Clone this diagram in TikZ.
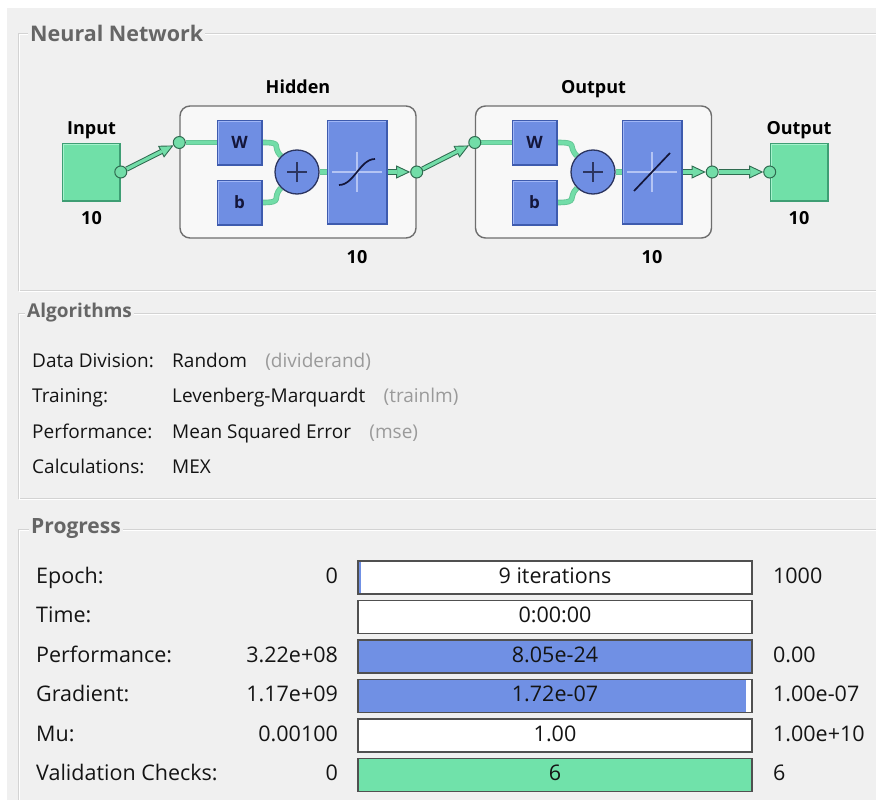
\documentclass[tikz,border=0pt]{standalone}
\usepackage{fontspec}
\setmainfont{Open Sans}
\usetikzlibrary{positioning,calc,arrows.meta}

\definecolor{panelbg}{HTML}{F0F0F0}
\definecolor{groupline}{HTML}{D3D3D3}
\definecolor{titlegray}{HTML}{666666}
\definecolor{textdark}{HTML}{141414}
\definecolor{notegray}{HTML}{9A9A9A}
\definecolor{iogreen}{HTML}{70E0A8}
\definecolor{iogreenlight}{HTML}{A6F2CC}
\definecolor{iogreendark}{HTML}{3E9E74}
\definecolor{nnblue}{HTML}{6F8EE3}
\definecolor{nnbluelight}{HTML}{A0B6F6}
\definecolor{nnbluedark}{HTML}{3E5BAE}
\definecolor{navy}{HTML}{14163A}
\definecolor{sumedge}{HTML}{2C3560}
\definecolor{wiredark}{HTML}{2F6B50}
\definecolor{wiregreen}{HTML}{72DDA8}
\definecolor{layeredge}{HTML}{6E6E6E}
\definecolor{layerfill}{HTML}{F8F8F8}
\definecolor{bardark}{HTML}{505050}
\definecolor{barblue}{HTML}{7090E4}
\definecolor{bargreen}{HTML}{70E2AA}
\definecolor{crossline}{HTML}{B4C4F4}

\pgfdeclarelayer{back}
\pgfdeclarelayer{wires}
\pgfsetlayers{back,wires,main}

\tikzset{
  grouptitle/.style={fill=panelbg, text=titlegray, inner sep=2pt, anchor=west},
  bevel/.style n args={3}{fill=#1, draw=#3, line width=0.6pt, path picture={
      \draw[#2, line width=3pt] (path picture bounding box.south west) |- (path picture bounding box.north east);
      \draw[#3, line width=3pt] (path picture bounding box.south west) -| (path picture bounding box.north east);}},
  iosquare/.style={bevel={iogreen}{iogreenlight}{iogreendark}, minimum width=58pt, minimum height=58pt, inner sep=0pt},
  weight/.style={bevel={nnblue}{nnbluelight}{nnbluedark}, minimum size=45pt, inner sep=0pt, text=navy, font=\bfseries\fontsize{17}{17}\selectfont},
  transfer/.style={bevel={nnblue}{nnbluelight}{nnbluedark}, minimum width=60pt, minimum height=104pt, inner sep=0pt},
  summer/.style={circle, fill=nnblue, draw=sumedge, line width=1.3pt, minimum size=44pt, inner sep=0pt, path picture={
      \draw[sumedge, line width=2.4pt] ([xshift=-10pt]path picture bounding box.center) -- ([xshift=10pt]path picture bounding box.center)
        ([yshift=-10pt]path picture bounding box.center) -- ([yshift=10pt]path picture bounding box.center);}},
  port/.style={circle, fill=wiregreen, draw=wiredark, line width=1pt, minimum size=12pt, inner sep=0pt},
  layerbox/.style={draw=layeredge, fill=layerfill, line width=1.4pt, rounded corners=10pt, minimum width=236pt, minimum height=132pt},
  nnlabel/.style={inner sep=0pt, text=black, text height=13pt, text depth=4pt, font=\bfseries\fontsize{18}{18}\selectfont},
  innerwire/.style={draw=wiregreen!80!wiredark, line width=5.6pt, postaction={draw=wiregreen, line width=3.8pt}},
  wirearrow/.style={draw=wiredark, line width=5.2pt, -{Triangle[length=14pt,width=13pt,line width=0.9pt,fill=wiregreen]},
      postaction={draw=wiregreen, line width=3.2pt, shorten >=13pt, -}},
  crosshair/.style={crossline, line width=1.2pt},
  tfcurve/.style={navy, line width=1.7pt},
  algtext/.style={inner sep=0pt, text=textdark, text height=14pt, text depth=4pt, font=\fontsize{19}{21}\selectfont},
  algnote/.style={algtext, text=notegray},
  progtext/.style={inner sep=0pt, text=textdark, text height=15pt, text depth=4pt, font=\fontsize{21.5}{23}\selectfont},
  bar/.style={progtext, draw=bardark, line width=1.8pt, fill=white, minimum width=394pt, minimum height=33pt},
  barfill/.style 2 args={path picture={\fill[#1] (path picture bounding box.south west)
      rectangle ($(path picture bounding box.north west)!#2!(path picture bounding box.north east)$);}}
}

\begin{document}
\begin{tikzpicture}[x=1pt,y=-1pt]
\useasboundingbox (0,0) rectangle (876,800);

\begin{pgfonlayer}{back}
  \fill[white] (0,0) rectangle (876,800);
  \fill[panelbg] (7,8) rectangle (876,800);
  \draw[groupline] (18,33) rectangle (890,290);
  \draw[white] (19,34) rectangle (891,291);
  \draw[groupline] (18,313) rectangle (890,498);
  \draw[white] (19,314) rectangle (891,499);
  \draw[groupline] (18,529) rectangle (890,820);
  \draw[white] (19,530) rectangle (891,821);
  \node[layerbox] (hid) at (298,172) {};
  \node[layerbox] (outl) at (593.5,172) {};
\end{pgfonlayer}

\node[grouptitle, font=\bfseries\fontsize{21.5}{22}\selectfont] (nntitle) at (28,33) {Neural Network};
\node[grouptitle, font=\bfseries\fontsize{19}{20}\selectfont] (algtitle) at (25,313) {Algorithms};
\node[grouptitle, font=\bfseries\fontsize{21}{22}\selectfont] (progtitle) at (29,529) {Progress};

\node[iosquare] (inbox) at (91.5,172) {};
\node[nnlabel, above=4.5pt of inbox] (inlabel) {Input};
\node[nnlabel, below=9.5pt of inbox] (insize) {10};
\node[port] (inport) at (inbox.east) {};

\node[nnlabel, above=7.5pt of hid] (hidlabel) {Hidden};
\node[weight] (w1) at (239.5,142.5) {W};
\node[weight] (b1) at (239.5,202.5) {b};
\node[summer] (sum1) at (297,172) {};
\node[transfer] (tf1) at (357,172) {};
\node[port] (hidin) at (hid.west |- w1) {};
\node[port] (hidout) at (hid.east) {};
\coordinate (hidfoot) at (tf1 |- hid.south);
\node[nnlabel, below=11.5pt of hidfoot] (hidsize) {10};
\draw[crosshair] ([xshift=-25pt]tf1.center) -- ([xshift=25pt]tf1.center)
  ([yshift=-20pt]tf1.center) -- ([yshift=20pt]tf1.center);
\draw[tfcurve] ($(tf1)+(-18,13)$) .. controls ($(tf1)+(-3,13)$) and ($(tf1)+(3,-13)$) .. ($(tf1)+(18,-13)$);

\node[nnlabel, above=7.5pt of outl] (outllabel) {Output};
\node[weight] (w2) at (534.5,142.5) {W};
\node[weight] (b2) at (534.5,202.5) {b};
\node[summer] (sum2) at (593,172) {};
\node[transfer] (tf2) at (652,172) {};
\node[port] (outin) at (outl.west |- w2) {};
\node[port] (outout) at (outl.east) {};
\coordinate (outfoot) at (tf2 |- outl.south);
\node[nnlabel, below=11.5pt of outfoot] (outlsize) {10};
\draw[crosshair] ([xshift=-25pt]tf2.center) -- ([xshift=25pt]tf2.center)
  ([yshift=-20pt]tf2.center) -- ([yshift=20pt]tf2.center);
\draw[tfcurve] ($(tf2)+(-18,19)$) -- ($(tf2)+(18,-19)$);

\node[iosquare] (outbox) at (799,172) {};
\node[nnlabel, above=4.5pt of outbox] (outlabel) {Output};
\node[nnlabel, below=9.5pt of outbox] (outsize) {10};
\node[port] (outport) at (outbox.west) {};

\begin{pgfonlayer}{wires}
  \draw[wirearrow] (inport) -- (hidin);
  \draw[innerwire] (hidin) -- (w1);
  \draw[innerwire] (w1.east) .. controls +(22,0) and +(-10,-10) .. (sum1.135);
  \draw[innerwire] (b1.east) .. controls +(22,0) and +(-10,10) .. (sum1.-135);
  \draw[innerwire] (sum1) -- (tf1);
  \draw[wirearrow] (tf1) -- (hidout);
  \draw[wirearrow] (hidout) -- (outin);
  \draw[innerwire] (outin) -- (w2);
  \draw[innerwire] (w2.east) .. controls +(22,0) and +(-10,-10) .. (sum2.135);
  \draw[innerwire] (b2.east) .. controls +(22,0) and +(-10,10) .. (sum2.-135);
  \draw[innerwire] (sum2) -- (tf2);
  \draw[wirearrow] (tf2) -- (outout);
  \draw[wirearrow] (outout) -- (outport);
\end{pgfonlayer}

\node[algtext, anchor=west] (divlabel) at (32,362) {Data Division:};
\node[algtext, anchor=west] (divval) at (172,362) {Random};
\node[algnote, right=18pt of divval] (divnote) {(dividerand)};
\node[algtext, anchor=west] (trainlabel) at (32,397.5) {Training:};
\node[algtext, anchor=west] (trainval) at (172,397.5) {Levenberg-Marquardt};
\node[algnote, right=18pt of trainval] (trainnote) {(trainlm)};
\node[algtext, anchor=west] (perflabel) at (32,433) {Performance:};
\node[algtext, anchor=west] (perfval) at (172,433) {Mean Squared Error};
\node[algnote, right=18pt of perfval] (perfnote) {(mse)};
\node[algtext, anchor=west] (calclabel) at (32,468) {Calculations:};
\node[algtext, anchor=west] (calcval) at (172,468) {MEX};

\node[bar, barfill={barblue}{0.008}] (epochbar) at (555,577.5) {9 iterations};
\node[progtext, left=19pt of epochbar] (epochmin) {0};
\node[progtext, right=20pt of epochbar] (epochmax) {1000};
\node[progtext, anchor=west] (epochlabel) at (36,577.5) {Epoch:};

\node[bar] (timebar) at (555,617) {0:00:00};
\node[progtext, anchor=west] (timelabel) at (36,617) {Time:};

\node[bar, fill=barblue] (perfbar) at (555,656.5) {8.05e-24};
\node[progtext, left=19pt of perfbar] (perfmin) {3.22e+08};
\node[progtext, right=20pt of perfbar] (perfmax) {0.00};
\node[progtext, anchor=west] (perfrow) at (36,656.5) {Performance:};

\node[bar, barfill={barblue}{0.985}] (gradbar) at (555,696) {1.72e-07};
\node[progtext, left=19pt of gradbar] (gradmin) {1.17e+09};
\node[progtext, right=20pt of gradbar] (gradmax) {1.00e-07};
\node[progtext, anchor=west] (gradlabel) at (36,696) {Gradient:};

\node[bar] (mubar) at (555,735.5) {1.00};
\node[progtext, left=19pt of mubar] (mumin) {0.00100};
\node[progtext, right=20pt of mubar] (mumax) {1.00e+10};
\node[progtext, anchor=west] (mulabel) at (36,735.5) {Mu:};

\node[bar, fill=bargreen] (valbar) at (555,775) {6};
\node[progtext, left=19pt of valbar] (valmin) {0};
\node[progtext, right=20pt of valbar] (valmax) {6};
\node[progtext, anchor=west] (vallabel) at (36,775) {Validation Checks:};
\end{tikzpicture}
\end{document}
